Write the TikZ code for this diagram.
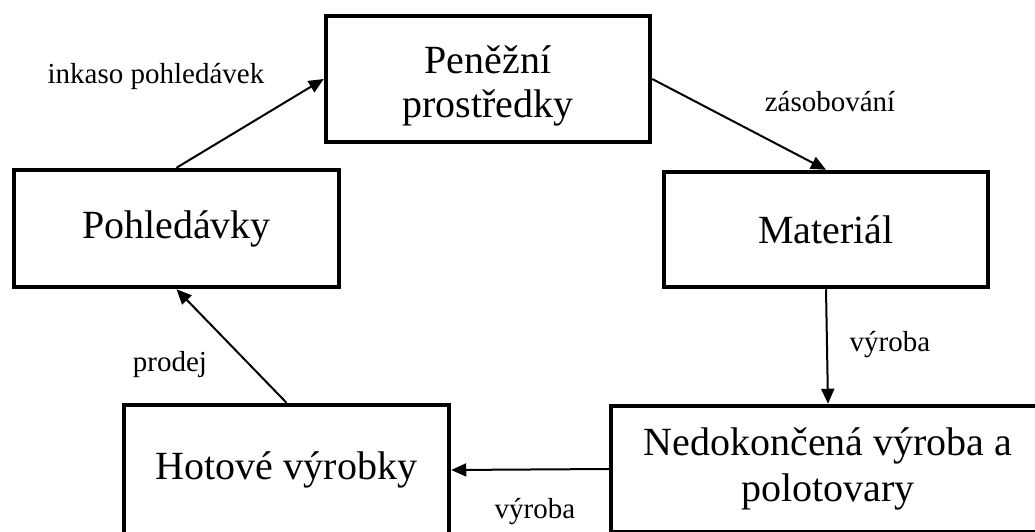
\documentclass[tikz,border=0pt]{standalone}
\usepackage{fontspec}
\setmainfont{Liberation Serif}
\usetikzlibrary{arrows.meta}
\tikzset{
  box/.style={draw, line width=4.5pt, inner sep=0pt, align=center,
    font=\fontsize{40}{46}\selectfont},
  boxtext/.style={inner sep=0pt, align=center, font=\fontsize{40}{44}\selectfont},
  lbl/.style={inner sep=0pt, font=\fontsize{29}{33}\selectfont},
  conn/.style={line width=2pt, -{Triangle[length=15pt,width=13pt]}}
}
\begin{document}
\begin{tikzpicture}[x=1pt,y=-1pt]
\useasboundingbox (0,0) rectangle (1035,532);
\clip (0,0) rectangle (1035,532);
\fill[white] (0,0) rectangle (1035,532);
\node[box, minimum width=324pt, minimum height=126pt] (pen) at (488,79) {};
\node[boxtext] (pent) at ([yshift=-7pt]pen.center) {Peněžní\\prostředky};
\node[box, minimum width=325pt, minimum height=117pt] (pohl) at (176.5,228.5) {Pohledávky};
\node[box, minimum width=324pt, minimum height=115pt] (mat) at (826,229.5) {Materiál};
\node[box, minimum width=325pt, minimum height=130pt] (hot) at (286.5,470) {Hotové výrobky};
\node[box, minimum width=434pt, minimum height=126pt] (ned) at (828,469) {Nedokončená výroba a\\polotovary};
\draw[conn] (pohl.north) -- (pen.west);
\draw[conn] (pen.east) -- (mat.north);
\draw[conn] (mat.south) -- (ned.north);
\draw[conn] (ned.west) -- (hot.east);
\draw[conn] (hot.north) -- (pohl.south);
\node[lbl] (l1) at (156,77) {inkaso pohledávek};
\node[lbl] (l2) at (830,102) {zásobování};
\node[lbl] (l3) at (890,345) {výroba};
\node[lbl] (l4) at (170,365) {prodej};
\node[lbl] (l5) at (535,512) {výroba};
\end{tikzpicture}
\end{document}
